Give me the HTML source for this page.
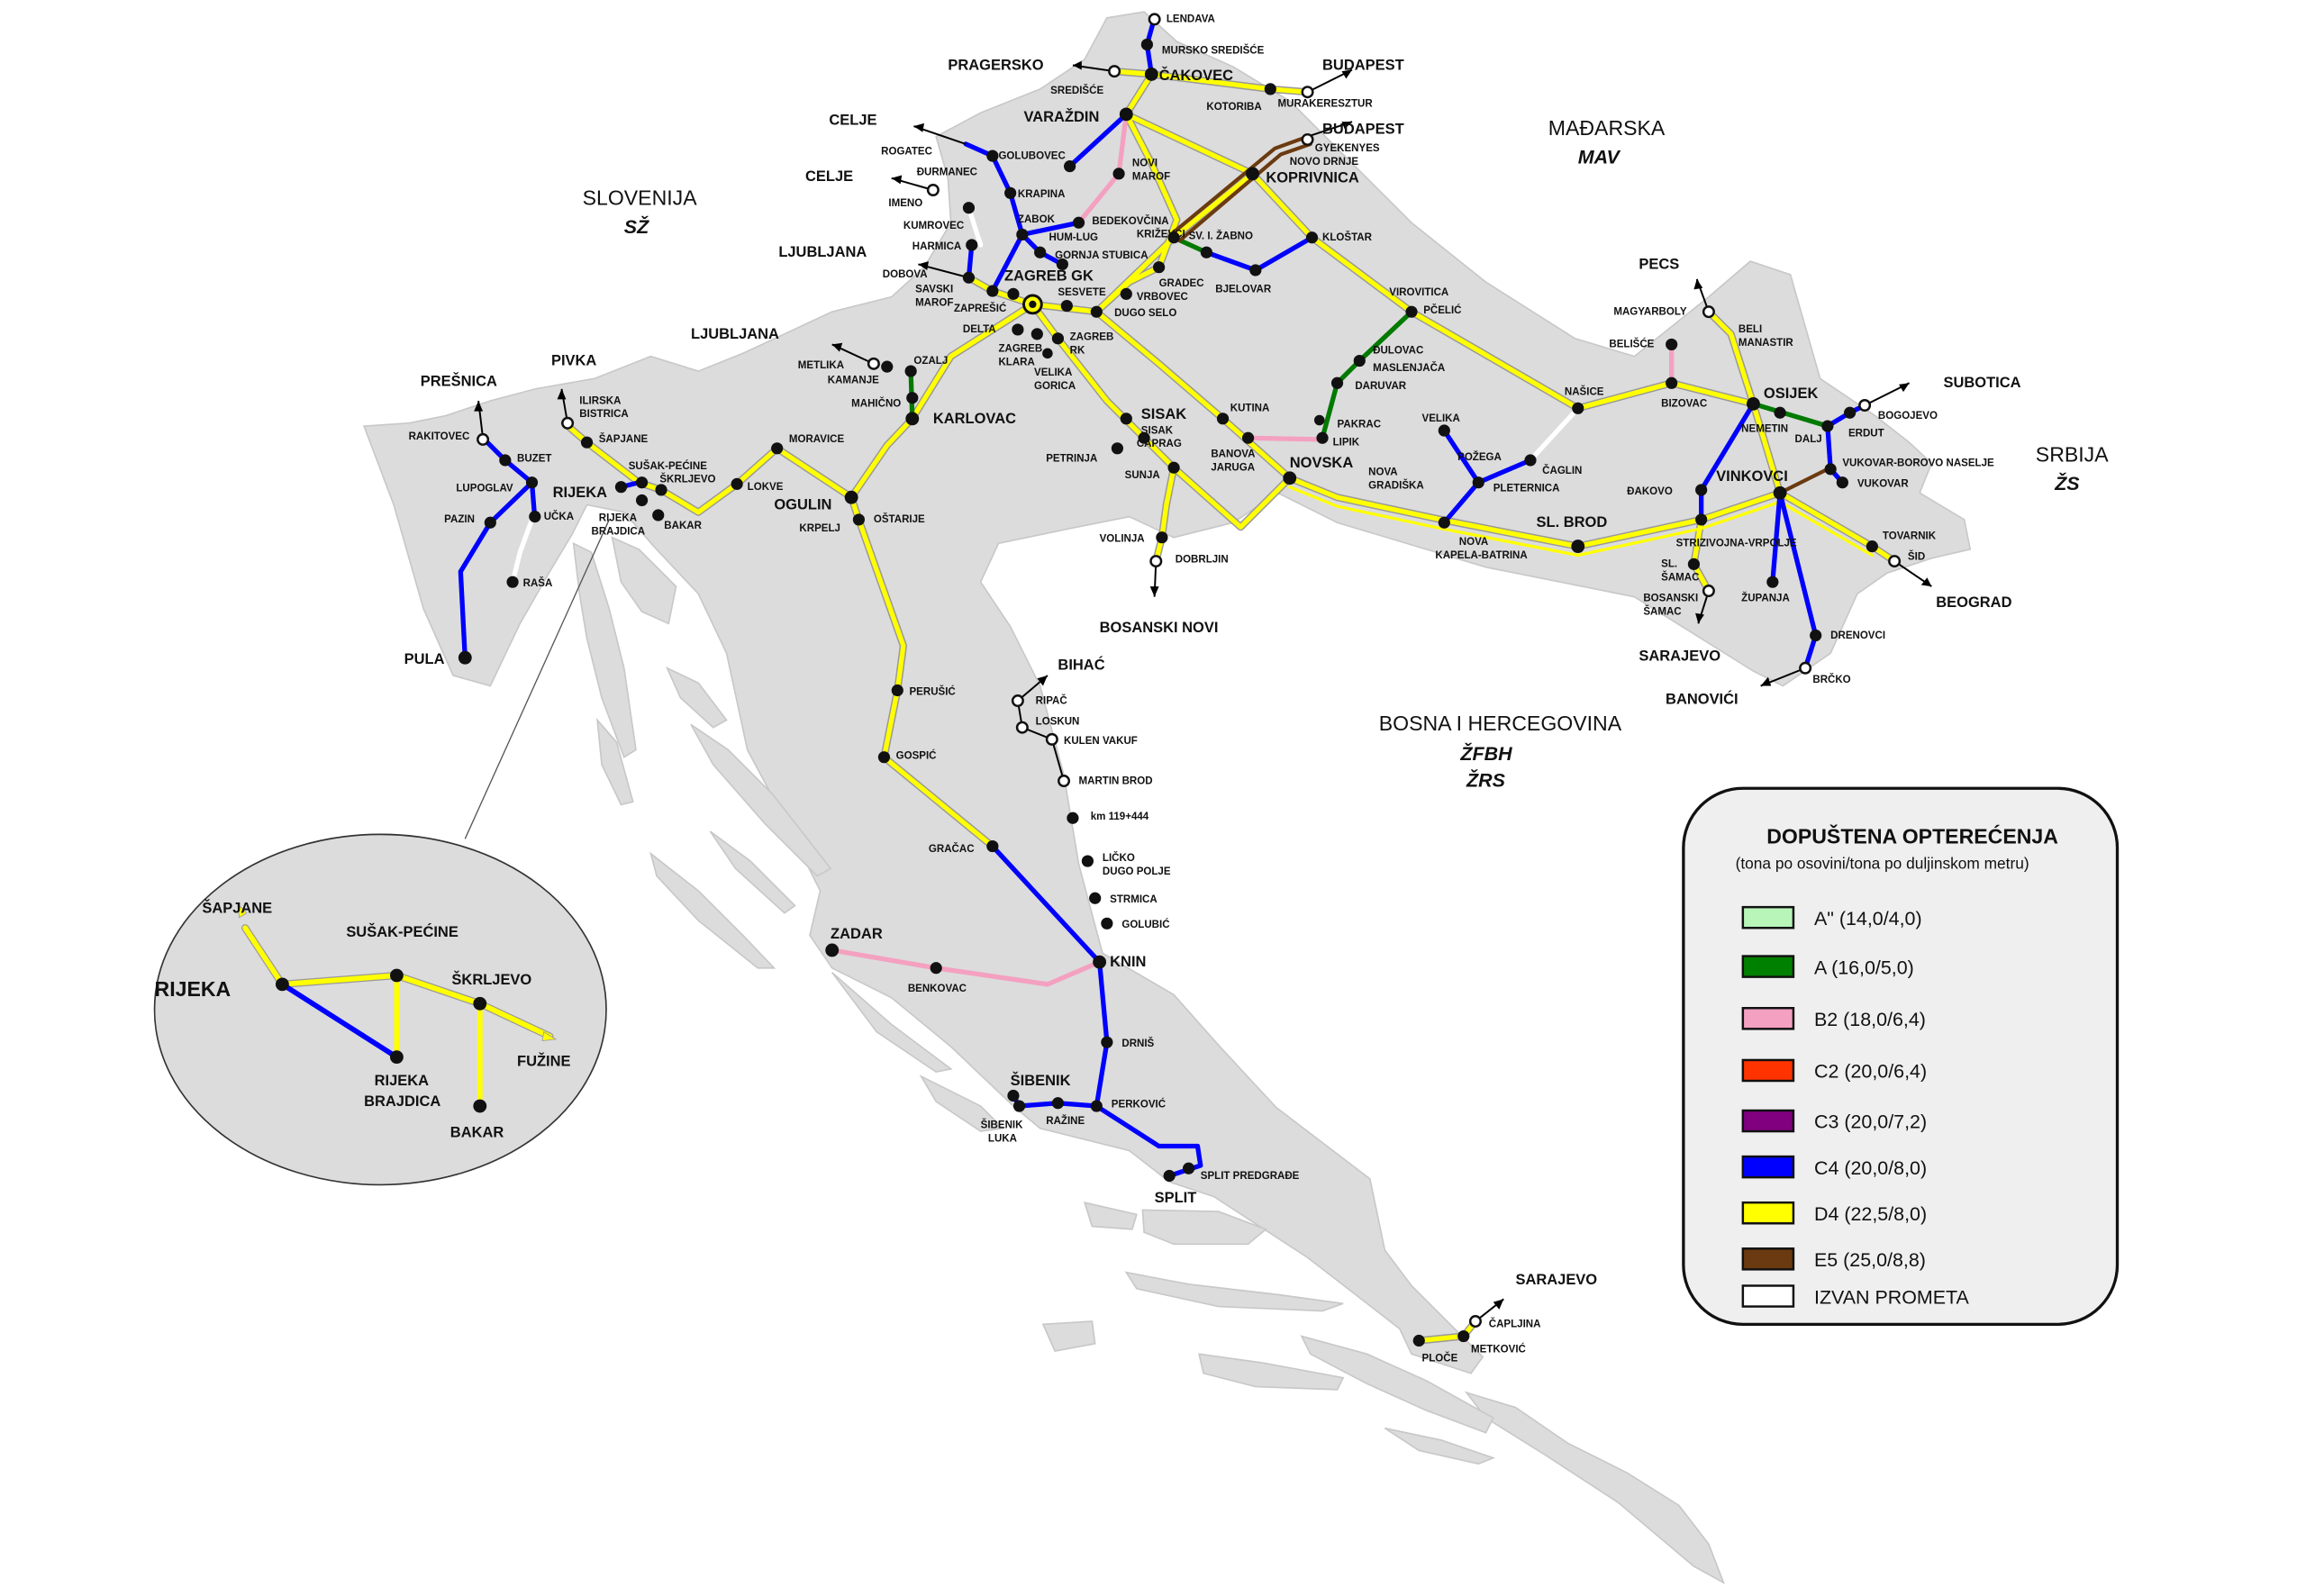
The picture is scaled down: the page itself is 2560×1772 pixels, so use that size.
<!DOCTYPE html>
<html><head><meta charset="utf-8"><style>
html,body{margin:0;padding:0;background:#fff}
svg{display:block}
text{font-family:"Liberation Sans Narrow","Liberation Sans",sans-serif;font-weight:bold;fill:#111}
.s{font-size:7px}
.m{font-size:10px}
</style></head><body>
<svg width="2560" height="1772" viewBox="0 0 1552 1075" preserveAspectRatio="none" xmlns="http://www.w3.org/2000/svg">
<rect width="1552" height="1075" fill="#fff"/>
<g fill="#dcdcdc" stroke="#c8c8c8" stroke-width="1">
<path d="M745,12 L770,8 L792,28 L830,45 L868,68 L900,100 L950,150 L1000,190 L1060,228 L1100,240 L1150,200 L1178,176 L1205,185 L1225,255 L1262,280 L1285,298 L1300,312 L1292,332 L1322,350 L1326,370 L1300,376 L1270,386 L1250,400 L1232,440 L1200,462 L1180,452 L1100,402 L1000,382 L900,352 L860,332 L830,352 L790,362 L760,348 L720,356 L672,366 L660,392 L680,422 L700,462 L716,522 L726,582 L742,642 L790,670 L821,705 L859,746 L922,794 L932,842 L950,866 L998,914 L990,925 L950,912 L942,895 L880,847 L817,806 L787,796 L760,775 L700,760 L682,745 L640,705 L600,672 L560,652 L545,630 L552,600 L526,548 L503,505 L489,440 L470,400 L440,368 L420,345 L395,340 L385,360 L370,385 L350,420 L330,462 L305,455 L285,410 L265,340 L245,287 L275,285 L300,280 L330,270 L360,262 L400,255 L438,240 L470,250 L500,238 L560,210 L600,200 L622,180 L640,150 L638,120 L630,92 L660,76 L700,60 L730,40 Z"/>
<path d="M987,938 L1020,948 L1055,972 L1095,992 L1130,1014 L1150,1040 L1160,1066 L1140,1055 L1089,1012 L1040,980 L1000,955 Z"/>
<path d="M876,900 L920,912 L960,930 L1005,955 L1000,965 L960,950 L920,932 L882,912 Z"/>
<!-- islands -->
<path d="M412,362 L430,370 L455,395 L450,420 L432,412 L418,392 Z"/>
<path d="M386,366 L398,372 L410,410 L420,450 L428,505 L420,510 L405,470 L395,430 L390,400 Z"/>
<path d="M402,485 L415,500 L426,540 L418,542 L405,515 Z"/>
<path d="M449,450 L470,460 L489,485 L480,490 L458,470 Z"/>
<path d="M465,488 L490,505 L520,535 L559,585 L550,590 L515,555 L480,515 Z"/>
<path d="M438,575 L470,600 L500,630 L521,652 L510,652 L470,620 L442,590 Z"/>
<path d="M478,560 L505,580 L535,610 L528,615 L495,585 Z"/>
<path d="M560,655 L600,690 L640,720 L630,722 L590,695 Z"/>
<path d="M620,725 L660,745 L675,760 L660,762 L630,742 Z"/>
<path d="M730,810 L765,818 L762,828 L735,826 Z"/>
<path d="M769,815 L820,816 L852,828 L840,838 L790,838 L770,830 Z"/>
<path d="M758,857 L800,865 L860,872 L904,878 L890,883 L820,880 L765,868 Z"/>
<path d="M702,892 L735,890 L737,905 L710,910 Z"/>
<path d="M807,912 L850,918 L904,928 L900,936 L845,934 L810,925 Z"/>
<path d="M932,962 L970,970 L1005,982 L995,986 L955,977 Z"/>
</g>
<!-- zoom ellipse -->
<line x1="313" y1="565" x2="410" y2="350" stroke="#555" stroke-width="0.8"/>
<ellipse cx="256" cy="680" rx="152" ry="118" fill="#dcdcdc" stroke="#333" stroke-width="1"/>
<g fill="none" stroke-linejoin="round" stroke-linecap="round">
<g stroke="#999" stroke-width="5">
<polyline points="775,50 758,77 843,117 883,160 950,210 1062,275 1125,258 1180,272"/>
<polyline points="775,50 855,60 880,62"/>
<polyline points="775,50 750,48"/>
<polyline points="758,77 775,110 792,148 780,180 760,190 738,210 695,205 668,196 652,187"/>
<polyline points="738,210 790,160 843,117"/>
<polyline points="695,205 640,240 614,282 597,300 573,335 523,302 496,326 470,345 445,330 430,325 395,298 380,285"/>
<polyline points="573,335 578,350 608,435 604,465 595,510 668,570"/>
<polyline points="695,205 712,228 745,270 770,295 790,315 835,355 868,322 900,335 970,350 1062,368 1145,350 1198,332 1260,368 1275,378"/>
<polyline points="738,210 780,245 823,282 868,322"/>
<polyline points="790,315 785,340 782,362 778,378"/>
<polyline points="1198,332 1180,272 1165,225 1150,210"/>
<polyline points="1145,350 1140,380 1150,398"/>
<polyline points="955,903 985,900 993,890"/>
</g>
<g stroke="#ffff00" stroke-width="3.2">
<polyline points="775,50 758,77 843,117 883,160 950,210 1062,275 1125,258 1180,272"/>
<polyline points="775,50 855,60 880,62"/>
<polyline points="775,50 750,48"/>
<polyline points="758,77 775,110 792,148 780,180 760,190 738,210 695,205 668,196 652,187"/>
<polyline points="738,210 790,160 843,117"/>
<polyline points="695,205 640,240 614,282 597,300 573,335 523,302 496,326 470,345 445,330 430,325 395,298 380,285"/>
<polyline points="573,335 578,350 608,435 604,465 595,510 668,570"/>
<polyline points="695,205 712,228 745,270 770,295 790,315 835,355 868,322 900,335 970,350 1062,368 1145,350 1198,332 1260,368 1275,378"/>
<polyline points="738,210 780,245 823,282 868,322"/>
<polyline points="790,315 785,340 782,362 778,378"/>
<polyline points="1198,332 1180,272 1165,225 1150,210"/>
<polyline points="1145,350 1140,380 1150,398"/>
<polyline points="955,903 985,900 993,890"/>
</g>
<polyline stroke="#ffff00" stroke-width="2" points="868,328 900,341 970,356 1062,374 1145,356 1198,338 1260,374"/>
<g stroke="#0000ff" stroke-width="3.2">
<polyline points="668,570 740,648 745,702 738,745 780,772 806,772 808,785 787,792"/>
<polyline points="738,745 712,743 686,745 682,738"/>
<polyline points="775,50 772,30 777,12"/>
<polyline points="680,130 668,105 650,97"/>
<polyline points="680,130 688,158 700,170 715,178"/>
<polyline points="688,158 726,150"/>
<polyline points="688,158 668,196"/>
<polyline points="758,77 720,112"/>
<polyline points="812,170 845,182 883,160"/>
<polyline points="1230,287 1245,278 1255,273"/>
<polyline points="1230,287 1232,316 1240,325"/>
<polyline points="1198,332 1193,392"/>
<polyline points="1198,332 1222,428 1215,450"/>
<polyline points="1030,310 995,325 972,352"/>
<polyline points="995,325 972,290"/>
<polyline points="1180,272 1145,330 1145,350"/>
<polyline points="325,295 340,310 358,325 330,352 310,385 313,443"/>
<polyline points="358,325 360,350"/>
<polyline points="430,325 418,328"/>
<polyline points="652,187 654,165"/>
</g>
<g stroke="#f4a0c0" stroke-width="3.2">
<polyline points="740,648 705,663 630,652 560,640"/>
<polyline points="758,77 753,117 726,150"/>
<polyline points="840,295 888,296"/>
<polyline points="1125,258 1125,232"/>
</g>
<g stroke="#007a00" stroke-width="3.2">
<polyline points="950,210 915,243 900,258 890,295"/>
<polyline points="1180,272 1230,287"/>
<polyline points="790,160 812,170"/>
<polyline points="614,282 613,250"/>
</g>
<g stroke="#6b3a10" stroke-width="2.5">
<polyline points="788,158 858,100 880,92"/>
<polyline points="794,162 862,104 882,97"/>
<polyline points="1198,332 1230,316"/>
</g>
<g stroke="#fff" stroke-width="3.2">
<polyline points="1062,275 1030,310"/>
<polyline points="358,350 350,372 345,392"/>
<polyline points="652,140 660,165"/>
</g>
<polyline stroke="#999" stroke-width="5" points="165,625 190,663 267,657 323,676 370,698"/>
<polyline stroke="#ffff00" stroke-width="3.5" points="165,625 190,663 267,657 323,676 370,698"/>
<polyline stroke="#ffff00" stroke-width="3.5" points="267,657 267,712"/>
<polyline stroke="#ffff00" stroke-width="3.5" points="323,676 323,745"/>
<polyline stroke="#0000ff" stroke-width="3.5" points="190,663 267,712"/>
</g>
<g stroke="#000" stroke-width="1.2" fill="none">
<line x1="750" y1="48" x2="722" y2="44"/><line x1="880" y1="62" x2="910" y2="47"/><line x1="880" y1="92" x2="910" y2="82"/>
<line x1="650" y1="97" x2="615" y2="85"/><line x1="628" y1="128" x2="600" y2="120"/><line x1="652" y1="187" x2="618" y2="178"/>
<line x1="588" y1="245" x2="560" y2="232"/><line x1="325" y1="295" x2="322" y2="270"/><line x1="382" y1="285" x2="378" y2="262"/>
<line x1="778" y1="378" x2="777" y2="402"/><line x1="1150" y1="210" x2="1142" y2="188"/><line x1="1255" y1="273" x2="1285" y2="258"/>
<line x1="1275" y1="378" x2="1300" y2="395"/><line x1="1215" y1="450" x2="1185" y2="462"/><line x1="1150" y1="398" x2="1143" y2="420"/>
<line x1="993" y1="890" x2="1012" y2="875"/><line x1="685" y1="472" x2="705" y2="455"/>
<polyline points="685,472 688,490 708,498 716,526"/>
</g>
<g fill="#000">
<path d="M722,44 l6,-3 l0,6z"/><path d="M910,47 l-7,1 l3,5z"/><path d="M910,82 l-7,0 l2,5z"/>
<path d="M615,85 l6,4 l1,-6z"/><path d="M600,120 l6,4 l1,-6z"/><path d="M618,178 l6,4 l1,-6z"/>
<path d="M560,232 l5,5 l2,-6z"/><path d="M322,270 l-3,7 l6,0z"/><path d="M378,262 l-3,7 l6,0z"/>
<path d="M777,402 l-3,-7 l6,0z"/><path d="M1142,188 l-2,7 l6,-1z"/><path d="M1285,258 l-7,1 l3,5z"/>
<path d="M1300,395 l-3,-6 l-4,5z"/><path d="M1185,462 l7,0 l-2,-6z"/><path d="M1143,420 l-2,-7 l6,1z"/>
<path d="M1012,875 l-7,2 l4,5z"/><path d="M705,455 l-7,2 l4,5z"/>
</g>
<path d="M366,695 l8,5 l-9,1z" fill="#ffff00" stroke="#999" stroke-width="0.5"/>
<path d="M161,618 l-1,-9 l6,6z" fill="#ffff00" stroke="#999" stroke-width="0.5"/>
<g fill="#111">
<circle cx="775" cy="50" r="4.5"/><circle cx="758" cy="77" r="4.5"/><circle cx="772" cy="30" r="4"/><circle cx="855" cy="60" r="4"/>
<circle cx="843" cy="117" r="4.5"/><circle cx="883" cy="160" r="4"/><circle cx="950" cy="210" r="4"/><circle cx="1062" cy="275" r="4"/>
<circle cx="1125" cy="258" r="4"/><circle cx="1125" cy="232" r="4"/><circle cx="1180" cy="272" r="4.5"/><circle cx="1198" cy="278" r="4"/>
<circle cx="1230" cy="287" r="4"/><circle cx="1245" cy="278" r="4"/><circle cx="1232" cy="316" r="4"/><circle cx="1240" cy="325" r="4"/>
<circle cx="1198" cy="332" r="4.5"/><circle cx="1145" cy="330" r="4"/><circle cx="1145" cy="350" r="4"/><circle cx="1140" cy="380" r="4"/>
<circle cx="1193" cy="392" r="4"/><circle cx="1222" cy="428" r="4"/><circle cx="1260" cy="368" r="4"/><circle cx="1062" cy="368" r="4.5"/>
<circle cx="972" cy="352" r="4"/><circle cx="1030" cy="310" r="4"/><circle cx="995" cy="325" r="4"/><circle cx="972" cy="290" r="4"/>
<circle cx="915" cy="243" r="4"/><circle cx="900" cy="258" r="4"/><circle cx="890" cy="295" r="4"/><circle cx="888" cy="283" r="3.5"/>
<circle cx="868" cy="322" r="4.5"/><circle cx="823" cy="282" r="4"/><circle cx="840" cy="295" r="4"/><circle cx="790" cy="315" r="4"/>
<circle cx="770" cy="295" r="4"/><circle cx="758" cy="282" r="4"/><circle cx="752" cy="302" r="4"/><circle cx="782" cy="362" r="4"/>
<circle cx="845" cy="182" r="4"/><circle cx="812" cy="170" r="4"/><circle cx="790" cy="160" r="4"/><circle cx="780" cy="180" r="4"/>
<circle cx="758" cy="198" r="4"/><circle cx="738" cy="210" r="4"/><circle cx="718" cy="206" r="4"/><circle cx="668" cy="196" r="4"/>
<circle cx="652" cy="187" r="4"/><circle cx="682" cy="198" r="4"/><circle cx="685" cy="222" r="4"/><circle cx="698" cy="225" r="4"/>
<circle cx="712" cy="228" r="4"/><circle cx="705" cy="238" r="3.5"/><circle cx="688" cy="158" r="4"/><circle cx="680" cy="130" r="4"/>
<circle cx="668" cy="105" r="4"/><circle cx="700" cy="170" r="4"/><circle cx="715" cy="178" r="4"/><circle cx="726" cy="150" r="4"/>
<circle cx="753" cy="117" r="4"/><circle cx="720" cy="112" r="4"/><circle cx="652" cy="140" r="4"/><circle cx="654" cy="165" r="4"/>
<circle cx="614" cy="282" r="4.5"/><circle cx="613" cy="250" r="4"/><circle cx="597" cy="247" r="4"/><circle cx="614" cy="268" r="4"/>
<circle cx="573" cy="335" r="4.5"/><circle cx="578" cy="350" r="4"/><circle cx="523" cy="302" r="4"/><circle cx="496" cy="326" r="4"/>
<circle cx="445" cy="330" r="4"/><circle cx="432" cy="325" r="4"/><circle cx="418" cy="328" r="4"/><circle cx="432" cy="337" r="4"/><circle cx="443" cy="347" r="4"/>
<circle cx="395" cy="298" r="4"/><circle cx="340" cy="310" r="4"/><circle cx="358" cy="325" r="4"/><circle cx="360" cy="348" r="4"/>
<circle cx="330" cy="352" r="4"/><circle cx="313" cy="443" r="4.5"/><circle cx="345" cy="392" r="4"/>
<circle cx="604" cy="465" r="4"/><circle cx="595" cy="510" r="4"/><circle cx="668" cy="570" r="4"/><circle cx="740" cy="648" r="4.5"/>
<circle cx="630" cy="652" r="4"/><circle cx="560" cy="640" r="4.5"/><circle cx="745" cy="702" r="4"/><circle cx="738" cy="745" r="4"/>
<circle cx="712" cy="743" r="4"/><circle cx="686" cy="745" r="4"/><circle cx="682" cy="738" r="4"/><circle cx="800" cy="787" r="4"/><circle cx="787" cy="792" r="4"/>
<circle cx="722" cy="551" r="4"/><circle cx="732" cy="580" r="4"/><circle cx="737" cy="605" r="4"/><circle cx="745" cy="622" r="4"/>
<circle cx="955" cy="903" r="4"/><circle cx="985" cy="900" r="4"/>
<circle cx="190" cy="663" r="4.5"/><circle cx="267" cy="657" r="4.5"/><circle cx="323" cy="676" r="4.5"/><circle cx="267" cy="712" r="4.5"/><circle cx="323" cy="745" r="4.5"/>
</g>
<g fill="#fff" stroke="#111" stroke-width="1.5">
<circle cx="777" cy="13" r="3.5"/><circle cx="750" cy="48" r="3.5"/><circle cx="880" cy="62" r="3.5"/><circle cx="880" cy="94" r="3.5"/>
<circle cx="628" cy="128" r="3.5"/><circle cx="588" cy="245" r="3.5"/><circle cx="325" cy="296" r="3.5"/><circle cx="382" cy="285" r="3.5"/>
<circle cx="778" cy="378" r="3.5"/><circle cx="1150" cy="210" r="3.5"/><circle cx="1255" cy="273" r="3.5"/><circle cx="1275" cy="378" r="3.5"/>
<circle cx="1215" cy="450" r="3.5"/><circle cx="1150" cy="398" r="3.5"/><circle cx="993" cy="890" r="3.5"/>
<circle cx="685" cy="472" r="3.5"/><circle cx="688" cy="490" r="3.5"/><circle cx="708" cy="498" r="3.5"/><circle cx="716" cy="526" r="3.5"/>
</g>
<circle cx="695" cy="205" r="6" fill="#ffff00" stroke="#111" stroke-width="1.8"/><circle cx="695" cy="205" r="2.5" fill="#111"/>
<g class="s">
<text x="785" y="15">LENDAVA</text><text x="782" y="36">MURSKO SREDIŠĆE</text><text x="707" y="63">SREDIŠĆE</text>
<text x="812" y="74">KOTORIBA</text><text x="860" y="72">MURAKERESZTUR</text><text x="885" y="102">GYEKENYES</text><text x="868" y="111">NOVO DRNJE</text>
<text x="593" y="104">ROGATEC</text><text x="672" y="107">GOLUBOVEC</text><text x="617" y="118">ĐURMANEC</text><text x="762" y="112">NOVI</text><text x="762" y="121">MAROF</text>
<text x="685" y="133">KRAPINA</text><text x="598" y="139">IMENO</text><text x="608" y="154">KUMROVEC</text><text x="685" y="150">ZABOK</text><text x="735" y="151">BEDEKOVČINA</text>
<text x="706" y="162">HUM-LUG</text><text x="765" y="160">KRIŽEVCI</text><text x="800" y="161">SV. I. ŽABNO</text><text x="890" y="162">KLOŠTAR</text>
<text x="614" y="168">HARMICA</text><text x="710" y="174">GORNJA STUBICA</text><text x="594" y="187">DOBOVA</text><text x="780" y="193">GRADEC</text>
<text x="616" y="197">SAVSKI</text><text x="616" y="206">MAROF</text><text x="642" y="210">ZAPREŠIĆ</text><text x="712" y="199">SESVETE</text><text x="818" y="197">BJELOVAR</text>
<text x="765" y="202">VRBOVEC</text><text x="750" y="213">DUGO SELO</text><text x="935" y="199">VIROVITICA</text><text x="958" y="211">PČELIĆ</text>
<text x="648" y="224">DELTA</text><text x="720" y="229">ZAGREB</text><text x="720" y="238">RK</text><text x="672" y="237">ZAGREB</text><text x="672" y="246">KLARA</text>
<text x="696" y="253">VELIKA</text><text x="696" y="262">GORICA</text><text x="924" y="238">ĐULOVAC</text><text x="924" y="250">MASLENJAČA</text><text x="912" y="262">DARUVAR</text>
<text x="537" y="248">METLIKA</text><text x="615" y="245">OZALJ</text><text x="557" y="258">KAMANJE</text><text x="573" y="274">MAHIČNO</text>
<text x="828" y="277">KUTINA</text><text x="768" y="292">SISAK</text><text x="765" y="301">CAPRAG</text><text x="900" y="288">PAKRAC</text><text x="897" y="300">LIPIK</text>
<text x="815" y="308">BANOVA</text><text x="815" y="317">JARUGA</text><text x="704" y="311">PETRINJA</text><text x="757" y="322">SUNJA</text>
<text x="957" y="284">VELIKA</text><text x="981" y="310">POŽEGA</text><text x="1038" y="319">ČAGLIN</text><text x="1005" y="331">PLETERNICA</text>
<text x="921" y="320">NOVA</text><text x="921" y="329">GRADIŠKA</text><text x="982" y="367">NOVA</text><text x="966" y="376">KAPELA-BATRINA</text>
<text x="740" y="365">VOLINJA</text><text x="791" y="379">DOBRLJIN</text><text x="1053" y="266">NAŠICE</text><text x="1086" y="212">MAGYARBOLY</text>
<text x="1170" y="224">BELI</text><text x="1170" y="233">MANASTIR</text><text x="1083" y="234">BELIŠĆE</text><text x="1118" y="274">BIZOVAC</text>
<text x="1264" y="282">BOGOJEVO</text><text x="1172" y="291">NEMETIN</text><text x="1208" y="298">DALJ</text><text x="1244" y="294">ERDUT</text>
<text x="1240" y="314">VUKOVAR-BOROVO NASELJE</text><text x="1250" y="328">VUKOVAR</text><text x="1095" y="333">ĐAKOVO</text>
<text x="1128" y="368">STRIZIVOJNA-VRPOLJE</text><text x="1118" y="382">SL.</text><text x="1118" y="391">ŠAMAC</text><text x="1172" y="405">ŽUPANJA</text>
<text x="1106" y="405">BOSANSKI</text><text x="1106" y="414">ŠAMAC</text><text x="1267" y="363">TOVARNIK</text><text x="1284" y="377">ŠID</text>
<text x="1232" y="430">DRENOVCI</text><text x="1220" y="460">BRČKO</text>
<text x="390" y="272">ILIRSKA</text><text x="390" y="281">BISTRICA</text><text x="403" y="298">ŠAPJANE</text><text x="275" y="296">RAKITOVEC</text>
<text x="348" y="311">BUZET</text><text x="423" y="316">SUŠAK-PEĆINE</text><text x="444" y="325">ŠKRLJEVO</text><text x="307" y="331">LUPOGLAV</text>
<text x="403" y="351">RIJEKA</text><text x="398" y="360">BRAJDICA</text><text x="447" y="356">BAKAR</text><text x="503" y="330">LOKVE</text><text x="531" y="298">MORAVICE</text>
<text x="299" y="352">PAZIN</text><text x="366" y="350">UČKA</text><text x="352" y="395">RAŠA</text><text x="538" y="358">KRPELJ</text><text x="588" y="352">OŠTARIJE</text>
<text x="612" y="468">PERUŠIĆ</text><text x="603" y="511">GOSPIĆ</text><text x="625" y="574">GRAČAC</text><text x="697" y="474">RIPAČ</text><text x="697" y="488">LOSKUN</text>
<text x="716" y="501">KULEN VAKUF</text><text x="726" y="528">MARTIN BROD</text><text x="734" y="552">km 119+444</text><text x="742" y="580">LIČKO</text><text x="742" y="589">DUGO POLJE</text>
<text x="747" y="608">STRMICA</text><text x="755" y="625">GOLUBIĆ</text><text x="611" y="668">BENKOVAC</text><text x="755" y="705">DRNIŠ</text><text x="748" y="746">PERKOVIĆ</text>
<text x="704" y="757">RAŽINE</text><text x="660" y="760">ŠIBENIK</text><text x="665" y="769">LUKA</text><text x="808" y="794">SPLIT PREDGRAĐE</text>
<text x="957" y="917">PLOČE</text><text x="990" y="911">METKOVIĆ</text><text x="1002" y="894">ČAPLJINA</text>
</g>
<g class="m">
<text x="780" y="54">ČAKOVEC</text><text x="689" y="82">VARAŽDIN</text><text x="852" y="123">KOPRIVNICA</text><text x="676" y="189">ZAGREB GK</text>
<text x="628" y="285">KARLOVAC</text><text x="768" y="282">SISAK</text><text x="868" y="315">NOVSKA</text><text x="1034" y="355">SL. BROD</text>
<text x="1187" y="268">OSIJEK</text><text x="1155" y="324">VINKOVCI</text><text x="521" y="343">OGULIN</text><text x="372" y="335">RIJEKA</text>
<text x="272" y="447">PULA</text><text x="559" y="632">ZADAR</text><text x="747" y="651">KNIN</text><text x="680" y="731">ŠIBENIK</text><text x="777" y="810">SPLIT</text>
<text x="638" y="47">PRAGERSKO</text><text x="890" y="47">BUDAPEST</text><text x="890" y="90">BUDAPEST</text><text x="558" y="84">CELJE</text><text x="542" y="122">CELJE</text>
<text x="524" y="173">LJUBLJANA</text><text x="465" y="228">LJUBLJANA</text><text x="283" y="260">PREŠNICA</text><text x="371" y="246">PIVKA</text>
<text x="740" y="426">BOSANSKI NOVI</text><text x="712" y="451">BIHAĆ</text><text x="1103" y="181">PECS</text><text x="1308" y="261">SUBOTICA</text>
<text x="1303" y="409">BEOGRAD</text><text x="1103" y="445">SARAJEVO</text><text x="1121" y="474">BANOVIĆI</text><text x="1020" y="865">SARAJEVO</text>
<text x="136" y="615">ŠAPJANE</text><text x="233" y="631">SUŠAK-PEĆINE</text><text x="304" y="663">ŠKRLJEVO</text><text x="348" y="718">FUŽINE</text>
<text x="252" y="731">RIJEKA</text><text x="245" y="745">BRAJDICA</text><text x="303" y="766">BAKAR</text>
</g>
<text x="104" y="671" style="font-size:14px">RIJEKA</text>
<g style="font-size:14px">
<text x="392" y="138" style="font-weight:normal">SLOVENIJA</text><text x="1042" y="91" style="font-weight:normal">MAĐARSKA</text>
<text x="1370" y="311" style="font-weight:normal">SRBIJA</text><text x="928" y="492" style="font-weight:normal">BOSNA I HERCEGOVINA</text>
</g>
<g style="font-size:13px;font-style:italic">
<text x="420" y="157">SŽ</text><text x="1062" y="110">MAV</text><text x="1383" y="330">ŽS</text><text x="983" y="512">ŽFBH</text><text x="987" y="530">ŽRS</text>
</g>
<rect x="1133" y="531" width="292" height="361" rx="40" fill="#efefef" stroke="#111" stroke-width="2"/>
<text x="1189" y="568" style="font-size:14px">DOPUŠTENA OPTEREĆENJA</text>
<text x="1168" y="585" style="font-size:10.5px;font-weight:normal">(tona po osovini/tona po duljinskom metru)</text>
<g stroke="#111" stroke-width="1.5">
<rect x="1173" y="611" width="34" height="14" fill="#b8f5b8"/>
<rect x="1173" y="644" width="34" height="14" fill="#008000"/>
<rect x="1173" y="679" width="34" height="14" fill="#f4a0c0"/>
<rect x="1173" y="714" width="34" height="14" fill="#ff3300"/>
<rect x="1173" y="748" width="34" height="14" fill="#800080"/>
<rect x="1173" y="779" width="34" height="14" fill="#0000ff"/>
<rect x="1173" y="810" width="34" height="14" fill="#ffff00"/>
<rect x="1173" y="841" width="34" height="14" fill="#6b3a10"/>
<rect x="1173" y="866" width="34" height="14" fill="#ffffff"/>
</g>
<g style="font-size:13px">
<text x="1221" y="623" style="font-weight:normal">A" (14,0/4,0)</text>
<text x="1221" y="656" style="font-weight:normal">A  (16,0/5,0)</text>
<text x="1221" y="691" style="font-weight:normal">B2 (18,0/6,4)</text>
<text x="1221" y="726" style="font-weight:normal">C2 (20,0/6,4)</text>
<text x="1221" y="760" style="font-weight:normal">C3 (20,0/7,2)</text>
<text x="1221" y="791" style="font-weight:normal">C4 (20,0/8,0)</text>
<text x="1221" y="822" style="font-weight:normal">D4 (22,5/8,0)</text>
<text x="1221" y="853" style="font-weight:normal">E5 (25,0/8,8)</text>
<text x="1221" y="878" style="font-weight:normal">IZVAN PROMETA</text>
</g>
</svg>
</body></html>
